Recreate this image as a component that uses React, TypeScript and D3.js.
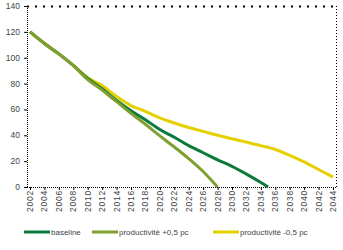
import React from "react";
import * as d3 from "d3";

const yTicks = [0, 20, 40, 60, 80, 100, 120, 140];
const xLabels = [2002, 2004, 2006, 2008, 2010, 2012, 2014, 2016, 2018, 2020, 2022, 2024, 2026, 2028, 2030, 2032, 2034, 2036, 2038, 2040, 2042, 2044];

const baselineYears = [2002, 2004, 2006, 2008, 2010, 2012, 2014, 2016, 2018, 2020, 2022, 2024, 2026, 2028, 2030, 2032, 2034, 2035];
const baselineValues = [120, 111, 103, 94, 84, 76, 67, 59, 52, 44.5, 38.5, 32, 26.5, 21, 16, 10, 3.5, 0];

const plusYears = [2002, 2004, 2006, 2008, 2010, 2012, 2014, 2016, 2018, 2020, 2022, 2024, 2026, 2028];
const plusValues = [120, 111, 103, 94, 83, 75, 66, 57, 48.5, 39.5, 31, 22, 12, 0];

const minusYears = [2002, 2004, 2006, 2008, 2010, 2012, 2014, 2016, 2018, 2020, 2022, 2024, 2026, 2028, 2030, 2032, 2034, 2036, 2038, 2040, 2042, 2044];
const minusValues = [120, 111, 103, 94, 84.5, 78.5, 70, 63, 58.5, 53.5, 49.5, 46, 43, 40, 37.3, 34.7, 32, 29, 24.5, 19.5, 13.5, 7.7];

const seriesNames = ["baseline", "productivité +0,5 pc", "productivité -0,5 pc"];
const seriesColors = ["#0b7a3c", "#7f9f2e", "#e6d000"];

export default function App() {
  const left = 27, right = 336, top = 6, bottom = 187;
  const x = d3.scaleLinear().domain([2002, 2044]).range([30, 333]);
  const y = d3.scaleLinear().domain([0, 140]).range([bottom, top]);
  const line = d3
    .line<[number, number]>()
    .x((d) => x(d[0]))
    .y((d) => y(d[1]))
    .curve(d3.curveMonotoneX);

  const series = [
    baselineYears.map((yr, i) => [yr, baselineValues[i]] as [number, number]),
    plusYears.map((yr, i) => [yr, plusValues[i]] as [number, number]),
    minusYears.map((yr, i) => [yr, minusValues[i]] as [number, number]),
  ];
  const drawOrder = [2, 0, 1];

  const legendX = [24, 92, 213];

  return (
    <svg
      width={343}
      height={250}
      style={{ position: "absolute", left: 0, top: 0, background: "#fff" }}
      fontFamily="'Liberation Sans', Arial, sans-serif"
    >
      {/* frame */}
      <line x1={left} x2={right} y1={top + 0.5} y2={top + 0.5} stroke="#000" strokeWidth={2} strokeDasharray="2,6" />
      <line x1={right + 0.5} x2={right + 0.5} y1={top} y2={bottom} stroke="#000" strokeWidth={1} strokeDasharray="1,2" />
      <line x1={left + 0.5} x2={left + 0.5} y1={top} y2={bottom} stroke="#000" strokeWidth={1} strokeDasharray="1,1" />
      <line x1={left} x2={right} y1={bottom + 0.5} y2={bottom + 0.5} stroke="#000" strokeWidth={1} strokeDasharray="1,1" />

      {yTicks.map((t) => (
        <g key={t}>
          <line x1={left - 3} x2={left} y1={y(t) + 0.5} y2={y(t) + 0.5} stroke="#000" />
          <text x={20} y={y(t) + 3} textAnchor="end" fontSize={8.5} fill="#444">
            {t}
          </text>
        </g>
      ))}

      {xLabels.map((yr) => (
        <g key={yr}>
          <line x1={x(yr) + 0.5} x2={x(yr) + 0.5} y1={bottom} y2={bottom + 3} stroke="#000" />
          <text
            transform={`translate(${x(yr) + 3},${bottom + 3}) rotate(-90)`}
            textAnchor="end"
            fontSize={8.5}
            letterSpacing={0.8}
            fill="#444"
          >
            {yr}
          </text>
        </g>
      ))}

      {drawOrder.map((i) => (
        <path key={i} d={line(series[i]) || ""} fill="none" stroke={seriesColors[i]} strokeWidth={3} />
      ))}

      {seriesNames.map((name, i) => (
        <g key={name}>
          <line x1={legendX[i]} x2={legendX[i] + 26} y1={232} y2={232} stroke={seriesColors[i]} strokeWidth={3} />
          <text x={legendX[i] + 27} y={235} fontSize={8} fill="#444">
            {name}
          </text>
        </g>
      ))}
    </svg>
  );
}
